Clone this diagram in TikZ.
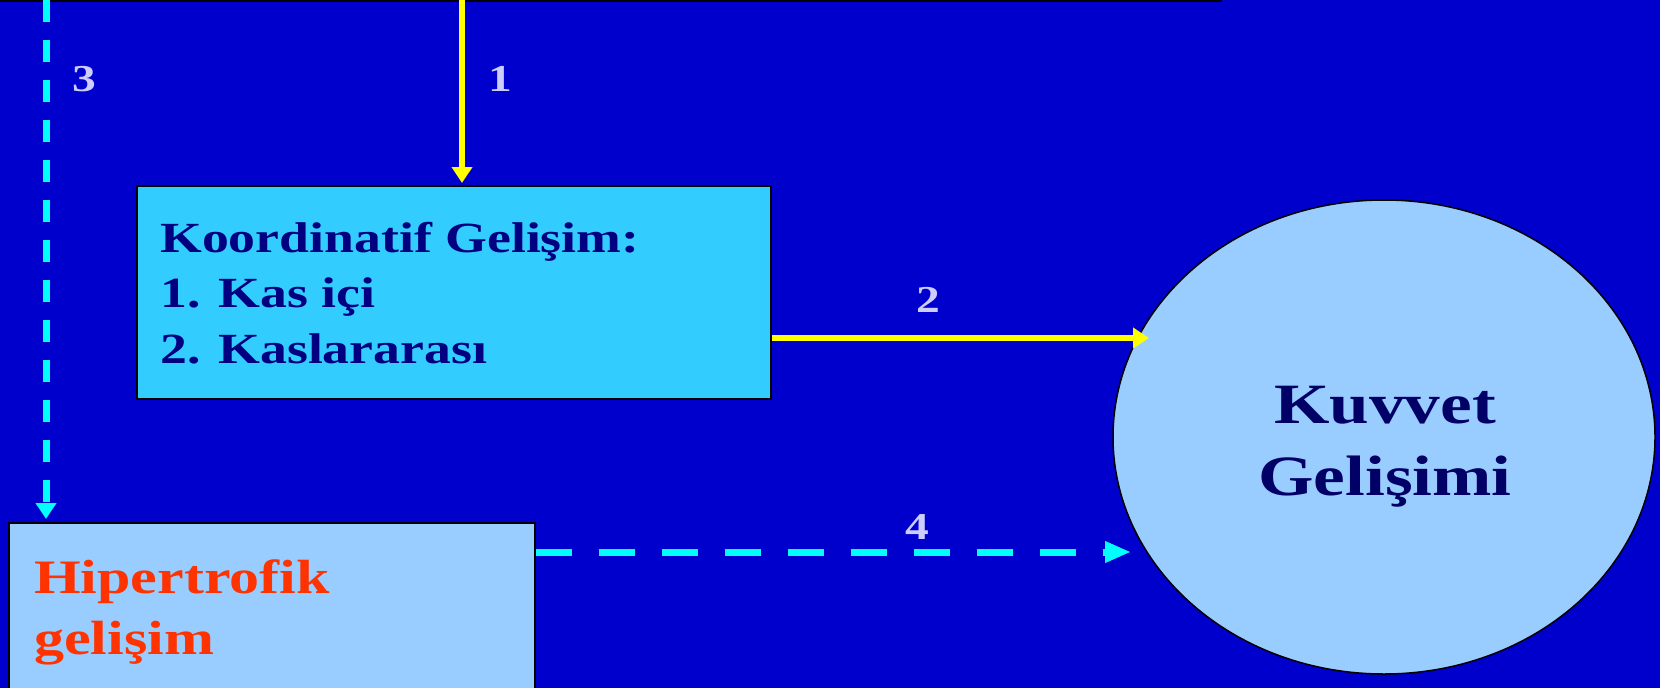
\documentclass[tikz,border=0pt]{standalone}
\usepackage{fontspec}
\setmainfont{Liberation Serif}[FakeStretch=1.25]
\usetikzlibrary{arrows.meta,shapes.geometric}
\definecolor{bg}{RGB}{0,0,204}
\definecolor{boxa}{RGB}{51,204,255}
\definecolor{boxb}{RGB}{153,204,255}
\definecolor{navytxt}{RGB}{0,0,128}
\definecolor{darknavy}{RGB}{0,0,102}
\definecolor{redorange}{RGB}{255,51,0}
\definecolor{lbl}{RGB}{204,204,255}
\definecolor{cyanline}{RGB}{0,255,255}
\definecolor{yellowline}{RGB}{255,255,0}
\tikzset{
  boxbase/.style={rectangle, draw=black, line width=1.5pt, inner sep=0pt, anchor=north west},
  koordbox/.style={boxbase, fill=boxa},
  hipbox/.style={boxbase, fill=boxb},
  kuvnode/.style={ellipse, draw=black, line width=1.5pt, fill=boxb, inner sep=0pt},
  ktext/.style={anchor=base west, inner sep=0pt, text=navytxt, font=\fontsize{43pt}{52pt}\selectfont\bfseries},
  htext/.style={anchor=base west, inner sep=0pt, text=redorange, font=\fontsize{48pt}{58pt}\selectfont\bfseries},
  ctext/.style={anchor=base, inner sep=0pt, text=darknavy, font=\fontsize{57pt}{68pt}\selectfont\bfseries},
  numlbl/.style={anchor=center, inner sep=0pt, text=lbl, font=\fontsize{38pt}{46pt}\selectfont\bfseries},
  yarrow/.style={draw=yellowline, line width=6pt, -{Triangle[length=16pt,width=20pt]}},
  cdashv/.style={draw=cyanline, line width=7pt, dash pattern=on 22pt off 18pt, -{Triangle[length=16pt,width=20pt]}},
  cdashh/.style={draw=cyanline, line width=7pt, dash pattern=on 36pt off 27pt, -{Triangle[length=26pt,width=20pt]}},
}
\begin{document}
\begin{tikzpicture}[x=1pt,y=-1pt]
\useasboundingbox (0,0) rectangle (1660,688);
\clip (0,0) rectangle (1660,688);
\fill[bg] (0,0) rectangle (1660,688);

% top border of box above
\coordinate (tl) at (0,1);
\coordinate (tr) at (1222,1);
\draw[black, line width=2.5pt] (tl) -- (tr);

% boxes
\node[koordbox, minimum width=634pt, minimum height=213pt] (koord) at (136,185) {};
\node[hipbox, minimum width=526pt, minimum height=200pt] (hip) at (8,522) {};
\node[kuvnode, minimum width=542pt, minimum height=474pt] (kuv) at (1384,437) {};

% texts
\node[ktext] (k1) at (160,252) {Koordinatif Gelişim:};
\node[ktext] (k2) at (160,307) {1. Kas içi};
\node[ktext] (k3) at (160,363) {2. Kaslararası};
\node[htext] (h1) at (34,593) {Hipertrofik};
\node[htext] (h2) at (34,654) {gelişim};
\node[ctext] (c1) at (1385,423) {Kuvvet};
\node[ctext] (c2) at (1385,495) {Gelişimi};

% connectors
\coordinate (t1) at (462,0);
\draw[yarrow] (t1) -- ([yshift=2pt]t1 |- koord.north);
\coordinate (e2) at (1149,338);
\draw[yarrow] (koord.east |- e2) -- (e2);
\coordinate (t3) at (46,0);
\draw[cdashv] (t3) -- ([yshift=3pt]t3 |- hip.north);
\coordinate (e4) at (1131,552);
\draw[cdashh] (hip.east |- e4) -- (e4);

% labels
\node[numlbl] (n3) at (84,79) {3};
\node[numlbl] (n1) at (500,79) {1};
\node[numlbl] (n2) at (928,300) {2};
\node[numlbl] (n4) at (917,527) {4};
\end{tikzpicture}
\end{document}
